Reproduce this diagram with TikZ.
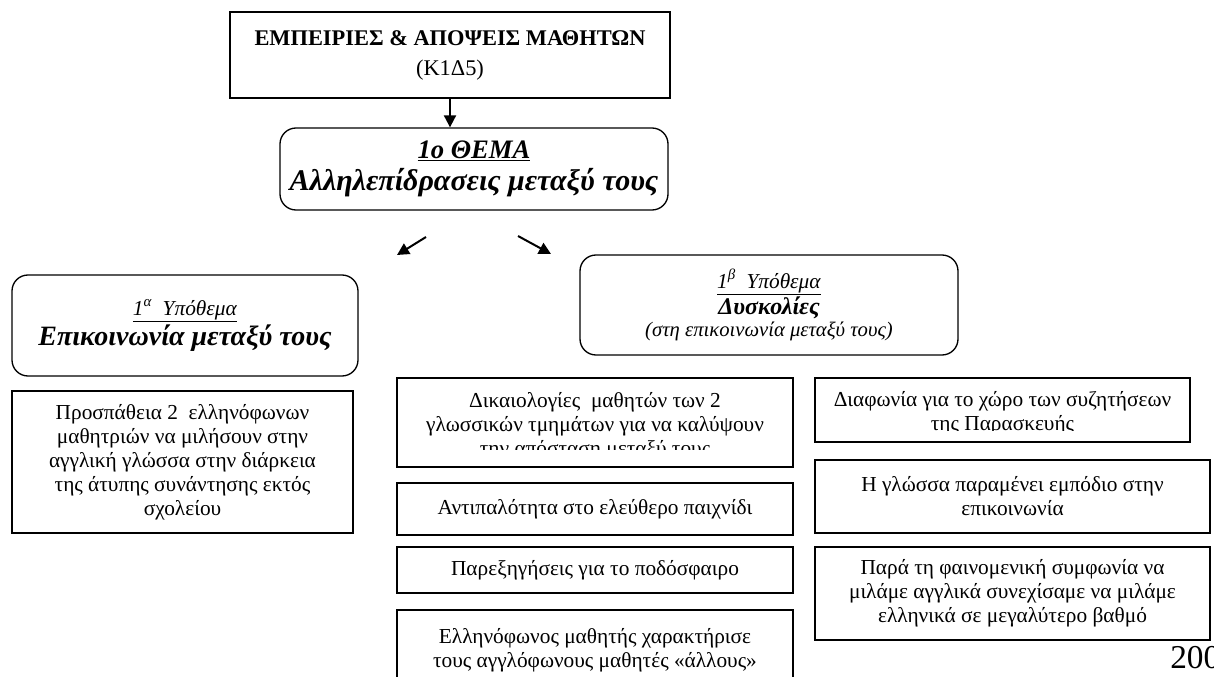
\documentclass[tikz,border=0pt]{standalone}
\usepackage{fontspec}
\setmainfont{Liberation Serif}
\usetikzlibrary{arrows.meta}

% one unit = one pixel of a 1214 x 677 page, y running downwards
\tikzset{
  sqbox/.style={draw, line width=1pt, fill=white, inner sep=0pt, align=center},
  rndbox/.style={draw, line width=1pt, fill=white, rounded corners=12pt, inner sep=0pt, align=center},
  link/.style={line width=1.5pt, -{Triangle[length=9pt,width=9pt]}},
  body/.style={font=\fontsize{16}{18}\selectfont},
  txt/.style={inner sep=0pt, align=center},
}

\begin{document}
\begin{tikzpicture}[x=0.75pt, y=-0.75pt]
\useasboundingbox (0,0) rectangle (1214,677);

% page number peeking out under the last box
\node[anchor=base west, inner sep=0pt, font=\fontsize{25}{25}\selectfont] (pgnum) at (1170,668) {200};

% heading
\node[sqbox, minimum width=440*0.75pt, minimum height=86*0.75pt,
      font=\fontsize{16.8}{22.5}\selectfont] (src) at (450,55)
  {\textbf{ΕΜΠΕΙΡΙΕΣ \& ΑΠΟΨΕΙΣ ΜΑΘΗΤΩΝ}\\(Κ1Δ5)};

% theme
\node[rndbox, minimum width=388*0.75pt, minimum height=82*0.75pt,
      font=\fontsize{20}{24}\selectfont\bfseries\itshape] (theme) at (474,169)
  {\underline{1ο ΘΕΜΑ}\\{\fontsize{22.5}{24}\selectfont Αλληλεπίδρασεις μεταξύ τους}};

\draw[link] (src.south) -- (src.south |- theme.north);

% branching arrows
\coordinate (la1) at (426,237);
\coordinate (la2) at (397,255);
\coordinate (ra1) at (518,236);
\coordinate (ra2) at (551,254);
\draw[link] (la1) -- (la2);
\draw[link] (ra1) -- (ra2);

% sub-themes
\node[rndbox, minimum width=346*0.75pt, minimum height=101*0.75pt,
      font=\fontsize{16}{22.5}\selectfont] (subA) at (185,325.5)
  {\underline{\textit{1\textsuperscript{α}\ \ Υπόθεμα}}\\
   {\fontsize{21}{22.5}\selectfont\bfseries\itshape Επικοινωνία μεταξύ τους}};

\node[rndbox, minimum width=378*0.75pt, minimum height=100*0.75pt,
      font=\fontsize{16}{17.5}\selectfont] (subB) at (769,305)
  {\underline{\textit{1\textsuperscript{β}\ \ Υπόθεμα}}\\
   {\fontsize{18}{17.5}\selectfont\bfseries\itshape Δυσκολίες}\\[-1pt]
   {\fontsize{15.5}{16}\selectfont\itshape (στη επικοινωνία μεταξύ τους)}};

% details under the first sub-theme
\node[sqbox, body, minimum width=341*0.75pt, minimum height=142*0.75pt] (a1) at (182.5,462)
  {Προσπάθεια 2\ \ ελληνόφωνων\\μαθητριών να μιλήσουν στην\\αγγλική γλώσσα στην διάρκεια\\της άτυπης συνάντησης εκτός\\σχολείου};

% details under the second sub-theme, first column
\node[sqbox, minimum width=396*0.75pt, minimum height=89*0.75pt] (b1) at (595,422.5) {};
\begin{scope}
  \clip (398,379) rectangle (792,449);
  \node[txt, body] (b1t) at (595,426) {Δικαιολογίες\ \ μαθητών των 2\\γλωσσικών τμημάτων για να καλύψουν\\την απόσταση μεταξύ τους};
\end{scope}

\node[sqbox, body, minimum width=396*0.75pt, minimum height=52*0.75pt] (b2) at (595,509)
  {Αντιπαλότητα στο ελεύθερο παιχνίδι};
\node[sqbox, body, minimum width=396*0.75pt, minimum height=46*0.75pt] (b3) at (595,570)
  {Παρεξηγήσεις για το ποδόσφαιρο};
\node[sqbox, body, minimum width=396*0.75pt, minimum height=80*0.75pt] (b4) at (595,650)
  {Ελληνόφωνος μαθητής χαρακτήρισε\\τους αγγλόφωνους μαθητές «άλλους»};

% second column
\node[sqbox, minimum width=375*0.75pt, minimum height=64*0.75pt] (c1) at (1002.5,410) {};
\begin{scope}
  \clip (816,379) rectangle (1189,430);
  \node[txt, body] (c1t) at (1002.5,413) {Διαφωνία για το χώρο των συζητήσεων\\της Παρασκευής};
\end{scope}

\node[sqbox, body, minimum width=395*0.75pt, minimum height=73*0.75pt] (c2) at (1012.5,496.5)
  {Η γλώσσα παραμένει εμπόδιο στην\\επικοινωνία};
\node[sqbox, body, minimum width=395*0.75pt, minimum height=93*0.75pt] (c3) at (1012.5,593.5)
  {Παρά τη φαινομενική συμφωνία να\\μιλάμε αγγλικά συνεχίσαμε να μιλάμε\\ελληνικά σε μεγαλύτερο βαθμό};
\end{tikzpicture}
\end{document}
